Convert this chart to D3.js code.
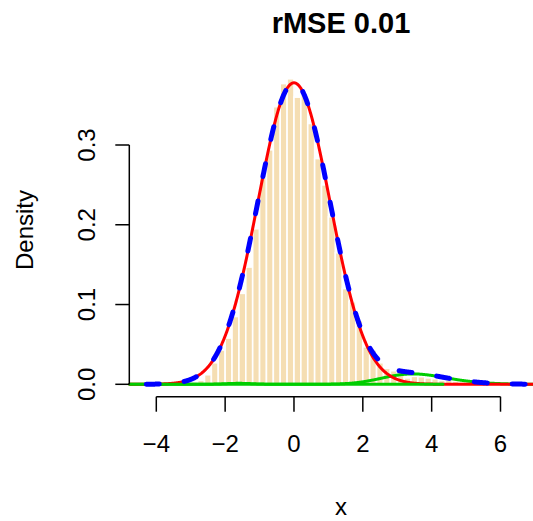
<!DOCTYPE html>
<html><head><meta charset="utf-8">
<script src="https://cdn.jsdelivr.net/npm/d3@7"></script>
<style>body{margin:0;background:#fff}svg{display:block}text{font-family:"Liberation Sans",Arial,sans-serif}</style>
</head><body>
<script>
// Histogram (density scale), bin width 0.2
const binStart = -3.0;
const binWidth = 0.2;
const binHeights = [
  0.003, 0.005, 0.012, 0.027, 0.043, 0.058, 0.085, 0.114, 0.147, 0.195,
  0.260, 0.294, 0.348, 0.377, 0.383, 0.360, 0.365, 0.327, 0.283, 0.250,
  0.210, 0.165, 0.120, 0.1035, 0.080, 0.047, 0.043, 0.027, 0.020, 0.017,
  0.015, 0.008, 0.010, 0.0095, 0.008, 0.007, 0.005, 0.006, 0.004, 0.003
];
// Mixture components: main (red), second (green bump, skewed), third (green, tiny)
const compMean   = [0.0, 2.75, -1.6];
const compSd     = [1.045, 1.3, 0.4];
const compWeight = [0.99, 0.031, 0.0012];
const compSkew   = [0, 1.5, 0];
const xTicks = [-4, -2, 0, 2, 4, 6];
const yTicks = [0, 0.1, 0.2, 0.3];
const titleText = "rMSE 0.01";

const W = 533, H = 521;
const svg = d3.select("body").append("svg").attr("width", W).attr("height", H);
svg.append("rect").attr("width", W).attr("height", H).attr("fill", "#fff");

const x = d3.scaleLinear().domain([-4, 6]).range([156.3, 500.5]);
const y = d3.scaleLinear().domain([0, 0.3]).range([384.3, 145]);

// bars
svg.append("g").selectAll("rect").data(binHeights).join("rect")
  .attr("x", (d, i) => x(binStart + i * binWidth))
  .attr("width", (d, i) => x(binStart + (i + 1) * binWidth) - x(binStart + i * binWidth))
  .attr("y", d => y(d))
  .attr("height", d => y(0) - y(d))
  .attr("fill", "#F5DEB3")
  .attr("stroke", "#fff")
  .attr("stroke-width", 1.6);

function erf(z) {
  const s = z < 0 ? -1 : 1; z = Math.abs(z);
  const t = 1 / (1 + 0.3275911 * z);
  const p = ((((1.061405429 * t - 1.453152027) * t + 1.421413741) * t - 0.284496736) * t + 0.254829592) * t;
  return s * (1 - p * Math.exp(-z * z));
}
const phi = z => Math.exp(-z * z / 2) / Math.sqrt(2 * Math.PI);
const Phi = z => 0.5 * (1 + erf(z / Math.SQRT2));
function comp(k, v) {
  const z = (v - compMean[k]) / compSd[k];
  const sk = compSkew[k] ? 2 * Phi(compSkew[k] * z) : 1;
  return compWeight[k] * phi(z) * sk / compSd[k];
}
const xs = d3.range(-4.77, 7.05, 0.01);
const line = d3.line().x(d => x(d[0])).y(d => y(d[1]));
function drawCurve(fn, from, to, color, width, dash) {
  const pts = xs.filter(v => v >= from && v <= to).map(v => [v, fn(v)]);
  const p = svg.append("path").attr("d", line(pts)).attr("fill", "none")
    .attr("stroke", color).attr("stroke-width", width)
    .attr("stroke-linecap", "round").attr("stroke-linejoin", "round");
  if (dash) p.attr("stroke-dasharray", dash).attr("stroke-dashoffset", 21.5);
}
drawCurve(v => comp(1, v), -4.77, 7.05, "#00CD00", 3);
drawCurve(v => comp(0, v), -4.77, 7.05, "#FF0000", 3);
drawCurve(v => comp(2, v), -4.77, 4.33, "#00CD00", 3);
drawCurve(v => comp(0, v) + comp(1, v) + comp(2, v), -4.77, 7.05, "#0000FF", 5, "13 25");

// axes (R style)
const ax = svg.append("g").attr("stroke", "#000").attr("stroke-width", 1.5).attr("fill", "none");
const xAxisY = 396.7;
ax.append("line").attr("x1", x(-4)).attr("x2", x(6)).attr("y1", xAxisY).attr("y2", xAxisY);
xTicks.forEach(t => ax.append("line").attr("x1", x(t)).attr("x2", x(t)).attr("y1", xAxisY).attr("y2", xAxisY + 15));
svg.append("g").selectAll("text").data(xTicks).join("text")
  .attr("x", d => x(d)).attr("y", 452).attr("text-anchor", "middle")
  .attr("font-size", 24).text(d => d < 0 ? "\u2212" + Math.abs(d) : d);

const yAxisX = 129.3;
ax.append("line").attr("x1", yAxisX).attr("x2", yAxisX).attr("y1", y(0)).attr("y2", y(0.3));
yTicks.forEach(t => ax.append("line").attr("x1", yAxisX).attr("x2", yAxisX - 14).attr("y1", y(t)).attr("y2", y(t)));
svg.append("g").selectAll("text").data(yTicks).join("text")
  .attr("transform", d => `translate(95,${y(d)}) rotate(-90)`)
  .attr("text-anchor", "middle").attr("font-size", 24).text(d => d.toFixed(1));

svg.append("text").attr("x", 341).attr("y", 33).attr("text-anchor", "middle")
  .attr("font-size", 29).attr("font-weight", "bold").text(titleText);
svg.append("text").attr("x", 341).attr("y", 515).attr("text-anchor", "middle")
  .attr("font-size", 24).text("x");
svg.append("text").attr("transform", "translate(33,230) rotate(-90)")
  .attr("text-anchor", "middle").attr("font-size", 24).text("Density");
</script>
</body></html>
